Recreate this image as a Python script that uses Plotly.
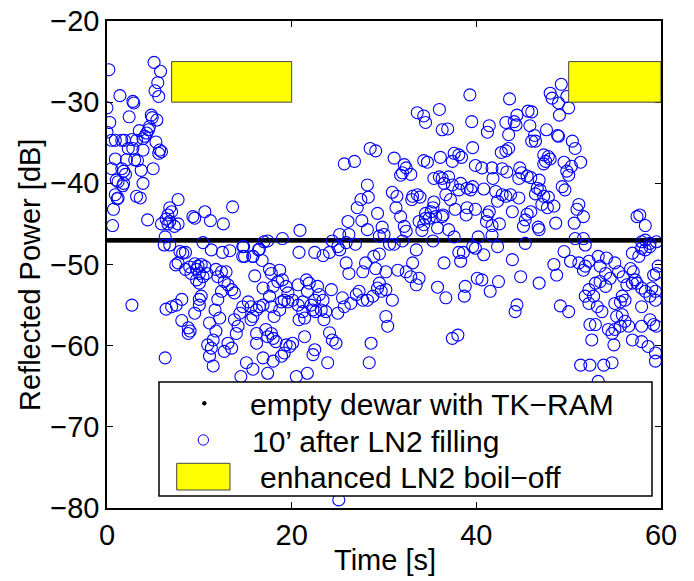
import numpy as np
import plotly.graph_objects as go

# ---------------- data ----------------
# "10' after LN2 filling" : time [s], reflected power [dB]
filled_time = [
    0.2, 5.1, 5.8, 5.5, 5.2, 5.6, 1.4, 2.8, 2.9, 0.0, 2.4, 4.8, 4.9, 5.4, 0.3, 4.6, 4.5, 4.3, 4.1, 0.0,
    3.5, 0.5, 0.9, 1.6, 1.9, 2.7, 3.2, 3.9, 5.3, 2.3, 2.8, 3.9, 5.7, 5.9, 5.6, 0.9, 2.1, 3.0, 3.3, 0.5,
    1.6, 1.8, 2.0, 3.7, 5.0, 1.0, 1.2, 1.8, 1.7, 3.9, 0.9, 1.2, 1.1, 3.2, 3.6, 0.7, 0.6, 4.4, 7.7, 6.8,
    7.0, 6.6, 6.4, 6.8, 5.9, 6.6, 7.7, 7.3, 9.3, 9.5, 10.6, 11.2, 12.6, 13.6, 6.3, 6.2, 6.8, 10.4, 11.3, 7.9,
    8.2, 8.5, 7.7, 12.5, 13.3, 14.8, 14.7, 15.8, 16.4, 17.0, 17.4, 19.0,
    # 7 - 20 s, below the line
    7.45, 8.5, 8.96, 9.5, 9.86, 10.2, 10.6, 9.7, 9.1, 10.0, 10.8, 9.7, 10.0, 10.4, 11.8, 12.4, 12.9, 12.0, 12.7, 13.1,
    13.5, 13.8, 12.4, 12.0, 11.7, 12.2, 11.1, 11.8, 11.5, 10.9, 11.3, 13.1, 12.7, 13.5, 14.0, 14.2, 13.8, 14.4, 14.7, 15.3,
    15.6, 16.2, 16.5, 16.9, 15.8, 15.6, 16.2, 17.2, 17.8, 18.0, 17.4, 18.3, 16.2, 15.1, 15.8, 16.9, 17.4, 18.0, 18.9, 19.4,
    11.1, 11.5, 10.0, 10.2, 10.0, 9.5, 8.1, 7.5, 7.0, 6.4, 2.7, 8.1, 8.8, 9.0, 8.8, 6.3, 14.5,
    14.7, 14.9, 15.8, 16.5, 16.8, 17.6, 17.8, 18.7, 18.5, 18.0, 16.9, 17.6, 18.9, 19.2, 18.7, 17.8, 18.1, 16.0, 19.4, 19.6,
    # 20 - 40 s, upper part
    39.3, 33.6, 34.3, 34.5, 36.0, 39.5, 36.3, 36.9, 28.5, 29.1, 25.7, 26.8, 31.1, 34.3, 34.7, 36.1, 37.4, 37.6, 38.1, 38.4,
    39.6, 39.9, 32.2, 32.4, 32.0, 31.8, 32.9, 35.4, 36.0, 36.3, 37.0, 36.5, 37.4, 38.3, 38.1, 39.0, 39.4, 39.6, 28.2, 27.5,
    27.1, 28.3, 30.9, 31.4, 33.1, 33.6, 33.9, 33.0, 31.3, 35.4, 35.3, 35.1, 34.5, 34.5, 36.7, 37.2, 36.4, 37.7, 39.0, 38.9,
    39.9, 31.8, 32.2, 32.4, 29.3, 27.6, 26.1, 28.2, 33.8, 34.3, 34.9, 35.6, 36.3, 35.8, 37.0, 34.1, 20.9, 29.8, 30.0, 29.5,
    25.2, 26.2, 26.9, 24.4, 25.9, 25.0, 20.8, 22.5, 23.4, 24.1, 25.2, 28.0, 28.9, 29.5, 30.6, 31.1, 32.0, 33.5, 35.3, 37.6,
    38.1, 38.6, 39.9,
    # 40 - 60 s, upper part
    49.2, 48.0, 48.2, 48.9, 49.8, 50.0, 49.0, 43.6, 45.6, 46.0, 41.4, 41.2, 43.2, 44.1, 44.4, 44.3, 43.5, 45.8, 46.3, 46.0,
    46.4, 47.6, 48.8, 48.9, 50.4, 50.7, 42.7, 43.2, 43.5, 47.3, 47.8, 47.5, 47.3, 48.0, 49.5, 51.3, 50.3, 49.8, 50.0, 40.6,
    41.7, 42.8, 43.3, 44.7, 44.9, 45.5, 45.9, 44.6, 41.8, 46.8, 46.6, 46.9, 46.4, 49.3, 49.6, 40.8, 42.1, 42.3, 42.8, 43.2,
    43.7, 44.6, 47.3, 47.8, 47.1, 48.4, 47.7, 41.4, 41.2, 41.1, 41.7, 42.5, 43.9, 45.5, 45.9, 45.3, 46.7, 45.1, 48.6, 51.1,
    50.9, 51.6, 50.6, 57.4, 57.7, 58.3,
    # 20 - 40 s, lower part
    25.9, 33.1, 36.5, 38.3,
    29.1, 27.7, 26.2, 30.2, 31.5, 32.4, 32.9, 33.8, 33.5, 40.1, 38.8, 38.7, 36.7, 35.8,
    19.0, 20.7, 21.6, 21.9, 21.7, 22.8, 23.0, 22.5, 24.3, 23.4, 22.1, 21.2, 20.7, 20.1, 19.6, 21.2, 20.8, 21.4, 22.3, 22.6,
    23.2, 23.7, 23.5, 25.0, 25.7, 26.4, 25.5, 27.0, 27.3, 27.7, 28.2, 28.8, 29.3, 29.5, 29.7, 30.2, 30.9, 30.2, 30.4, 24.1,
    24.4, 24.8, 21.4, 20.1, 19.8, 19.2, 22.5, 22.3, 23.9, 20.5, 21.7, 28.4, 28.6, 37.4, 38.0, 25.1,
    # 40 - 60 s, lower part
    40.2, 41.7, 45.3, 46.8, 50.7, 51.6, 51.8, 57.9, 58.8, 58.3, 59.5, 39.6, 40.8, 42.3, 43.9, 44.8, 46.8, 40.6, 41.5, 42.4,
    44.4, 44.2, 49.5, 50.2, 51.1, 51.8, 51.6, 48.4, 48.7, 52.2, 53.2, 54.1, 53.4, 54.0, 55.0, 55.4, 54.5, 53.4, 52.9, 54.0,
    55.9, 56.7, 57.0, 57.2, 57.6, 56.9, 57.9, 58.3, 58.8, 52.2, 51.8, 52.7, 52.2, 53.1, 53.6, 52.3, 52.9, 52.5, 54.3, 54.7,
    54.9, 55.0, 55.6, 56.1, 56.5, 55.2, 55.8, 55.0, 55.6, 56.1, 55.8, 56.3, 56.9, 57.4, 57.9, 58.3, 59.0, 59.4, 58.8, 59.4,
    57.9, 58.8, 59.2, 59.5, 57.9, 56.9, 57.9, 58.6, 59.4, 59.4, 59.7, 59.5, 59.2, 51.3, 52.3, 53.8, 54.7, 50.0, 49.1, 53.2,
]
filled_power = [
    -26.0, -25.1, -26.2, -27.6, -28.6, -29.3, -29.2, -29.9, -30.1, -30.7, -31.8, -31.6, -31.9, -32.2, -32.5, -33.0, -33.4, -33.8, -34.2, -33.7,
    -33.5, -34.7, -34.7, -34.7, -34.7, -34.6, -34.7, -34.5, -34.9, -35.7, -35.7, -35.9, -35.9, -36.1, -36.3, -37.0, -37.1, -37.1, -37.2, -38.2,
    -38.2, -38.5, -38.9, -38.4, -38.2, -39.6, -39.8, -40.0, -40.3, -40.0, -41.4, -41.8, -41.9, -41.6, -41.8, -43.2, -45.2, -44.5, -42.0, -43.0,
    -43.5, -43.9, -44.4, -44.7, -45.0, -45.0, -45.0, -45.3, -44.1, -44.3, -43.5, -44.6, -45.0, -42.9, -46.6, -47.6, -47.6, -47.3, -48.2, -48.4,
    -48.6, -48.5, -49.8, -48.5, -48.3, -47.8, -49.0, -49.0, -48.2, -47.2, -47.1, -46.8,
    -50.05, -50.6, -50.3, -49.9, -50.2, -50.0, -50.25, -50.6, -51.1, -51.1, -51.1, -51.9, -52.3, -51.5, -50.6, -50.9, -50.9, -51.5, -52.1, -52.5,
    -53.1, -53.5, -53.3, -54.3, -55.6, -56.6, -57.2, -58.2, -59.3, -59.9, -60.3, -59.7, -60.7, -60.3, -58.5, -57.6, -56.8, -56.0, -55.2, -54.6,
    -55.2, -55.6, -55.2, -55.0, -56.4, -56.8, -58.5, -58.0, -58.5, -59.1, -58.9, -59.5, -59.7, -62.1, -62.9, -61.5, -63.4, -61.9, -61.3, -59.9,
    -61.3, -62.5, -54.3, -53.9, -55.0, -56.0, -54.3, -55.0, -55.2, -55.5, -55.0, -56.9, -57.8, -58.2, -58.5, -61.5, -63.8,
    -47.8, -49.0, -49.0, -48.1, -49.5, -50.6, -51.1, -50.7, -52.1, -52.7, -52.9, -53.9, -54.6, -54.4, -55.6, -55.2, -56.4, -51.4, -52.7, -53.5,
    -29.1, -31.3, -31.7, -32.5, -30.9, -32.4, -33.4, -33.3, -35.7, -36.0, -37.6, -37.3, -36.9, -37.2, -37.4, -36.8, -37.3, -36.3, -36.5, -36.8,
    -35.6, -37.8, -37.7, -38.1, -38.7, -39.0, -38.9, -39.4, -39.2, -39.4, -39.2, -40.0, -40.2, -40.0, -40.8, -40.6, -40.8, -40.4, -40.2, -42.0,
    -43.0, -41.7, -41.1, -41.6, -41.6, -41.4, -41.7, -42.0, -43.0, -42.3, -43.0, -43.5, -43.7, -44.3, -41.4, -42.0, -43.9, -43.2, -43.0, -43.9,
    -43.2, -44.1, -45.3, -45.9, -43.7, -44.6, -44.7, -45.7, -44.7, -45.1, -44.3, -44.1, -44.1, -45.5, -45.7, -45.8, -45.8, -45.4, -46.3, -46.5,
    -46.3, -46.3, -47.5, -47.1, -47.3, -47.8, -48.5, -48.5, -48.9, -48.5, -48.2, -49.8, -49.0, -48.7, -47.5, -47.5, -47.1, -48.2, -47.1, -46.6,
    -48.5, -48.5, -48.0,
    -27.8, -28.9, -29.5, -30.1, -29.3, -30.7, -31.6, -29.6, -31.1, -31.2, -32.9, -33.7, -32.5, -32.4, -31.6, -32.8, -34.0, -32.9, -34.1, -34.8,
    -34.8, -33.4, -34.1, -34.2, -34.8, -35.7, -36.2, -36.0, -35.7, -36.5, -36.7, -37.3, -37.6, -37.0, -37.4, -37.4, -37.9, -38.5, -39.0, -38.1,
    -38.1, -38.2, -38.6, -38.1, -38.7, -39.1, -39.3, -39.4, -39.4, -39.6, -40.6, -40.8, -41.3, -40.4, -40.8, -40.7, -41.0, -42.2, -41.4, -41.6,
    -41.4, -41.8, -41.6, -41.7, -42.6, -42.8, -43.0, -43.5, -43.9, -44.7, -45.2, -45.0, -43.5, -43.8, -43.5, -44.5, -45.4, -45.3, -44.9, -42.6,
    -43.2, -44.1, -44.9, -44.1, -43.9, -45.2,
    -49.8, -49.8, -49.8, -49.6,
    -50.5, -50.9, -51.1, -50.9, -50.7, -50.9, -51.5, -51.7, -52.5, -51.7, -52.7, -53.9, -54.1, -52.8,
    -51.9, -52.5, -51.9, -52.3, -53.3, -52.7, -53.7, -54.4, -53.1, -54.4, -55.0, -54.6, -55.0, -54.4, -54.6, -55.8, -56.8, -56.6, -55.6, -55.8,
    -55.6, -55.8, -56.8, -56.0, -55.2, -54.8, -54.1, -53.7, -53.3, -54.4, -54.4, -53.9, -52.9, -52.3, -53.3, -53.1, -54.4, -56.4, -57.6, -58.4,
    -59.3, -59.7, -58.9, -59.7, -60.1, -60.9, -60.5, -61.1, -62.1, -63.8, -63.4, -62.1, -59.7, -59.1, -58.7, -79.0,
    -46.6, -46.4, -47.4, -45.7, -46.8, -46.8, -47.6, -47.2, -47.4, -47.0, -47.2, -47.8, -48.8, -47.8, -49.4, -51.5, -52.3, -51.9, -53.3, -52.1,
    -54.97, -55.8, -48.4, -49.6, -49.8, -50.2, -50.7, -50.0, -51.3, -49.6, -49.0, -49.2, -50.2, -51.1, -49.8, -50.9, -51.7, -52.1, -52.3, -52.7,
    -51.5, -50.5, -50.9, -51.9, -49.0, -48.6, -48.0, -48.2, -47.8, -53.1, -53.9, -53.9, -54.8, -55.2, -55.8, -57.4, -57.4, -59.3, -58.0, -58.5,
    -59.9, -58.0, -57.6, -57.0, -57.6, -56.4, -56.2, -54.8, -54.6, -54.4, -53.9, -52.5, -52.3, -52.3, -52.9, -53.3, -52.9, -53.3, -53.9, -54.4,
    -55.2, -56.8, -57.4, -57.6, -57.6, -59.3, -59.5, -60.1, -60.9, -61.9, -50.2, -51.1, -51.3, -62.4, -62.4, -62.4, -62.1, -55.8, -55.1, -64.4,
]

# "empty dewar with TK-RAM" : dense trace at constant level
empty_time = np.arange(0.0, 60.01, 0.1)
empty_power = [-47.0] * len(empty_time)

# enhanced LN2 boil-off intervals [s] and their band [dB]
boiloff_start = [7, 50]
boiloff_end = [20, 60]
boiloff_top = -25
boiloff_bottom = -30

x_ticks = [0, 20, 40, 60]
y_ticks = [-80, -70, -60, -50, -40, -30, -20]

FONT = "Liberation Sans, Arial, sans-serif"
FS = 29
LEG_FS = 30

fig = go.Figure()

fig.add_trace(go.Scatter(
    x=empty_time, y=empty_power, mode="markers",
    marker=dict(symbol="circle", size=4.5, color="black", line=dict(width=0)),
    showlegend=False, hoverinfo="skip",
))
fig.add_trace(go.Scatter(
    x=filled_time, y=filled_power, mode="markers",
    marker=dict(symbol="circle-open", size=12, color="#0000ff", line=dict(width=1.1, color="#0000ff")),
    showlegend=False,
))

for s, e in zip(boiloff_start, boiloff_end):
    fig.add_shape(type="rect", xref="x", yref="y", x0=s, x1=e, y0=boiloff_bottom, y1=boiloff_top,
                  fillcolor="#ffff00", line=dict(color="#444444", width=1), layer="above")

# ---------- legend (drawn as box + symbols + text); positions in window pixels ----------
def px2x(px):
    return (px - 107) / 554.0

def px2y(py):
    return (508 - py) / 487.0

fig.add_shape(type="rect", xref="paper", yref="paper",
              x0=px2x(159), x1=px2x(652), y0=px2y(496), y1=px2y(382),
              fillcolor="white", line=dict(color="black", width=1.5), layer="above")
fig.add_shape(type="circle", xref="paper", yref="paper", xsizemode="pixel", ysizemode="pixel",
              xanchor=px2x(204.3), yanchor=px2y(403.3), x0=-2.2, x1=2.2, y0=-2.2, y1=2.2,
              fillcolor="black", line=dict(color="black", width=0), layer="above")
fig.add_shape(type="circle", xref="paper", yref="paper", xsizemode="pixel", ysizemode="pixel",
              xanchor=px2x(203.3), yanchor=px2y(440), x0=-5.2, x1=5.2, y0=-5.2, y1=5.2,
              fillcolor="rgba(0,0,0,0)", line=dict(color="#0000ff", width=1), layer="above")
fig.add_shape(type="rect", xref="paper", yref="paper",
              x0=px2x(176.7), x1=px2x(230), y0=px2y(490), y1=px2y(463.3),
              fillcolor="#ffff00", line=dict(color="#444444", width=1), layer="above")

legend_texts = ["empty dewar with TK\u2212RAM", "10\u2019 after LN2 filling", "enhanced LN2 boil\u2212off"]
legend_x = [248.3, 249.5, 258]
legend_y = [404, 441, 477]
for txt, lx, ly in zip(legend_texts, legend_x, legend_y):
    fig.add_annotation(text=txt, xref="paper", yref="paper", x=px2x(lx), y=px2y(ly),
                       xanchor="left", yanchor="middle", showarrow=False,
                       font=dict(family=FONT, size=LEG_FS, color="black"))

# axis titles
fig.add_annotation(text="Time [s]", xref="paper", yref="paper", x=px2x(385), y=px2y(560),
                   xanchor="center", yanchor="middle", showarrow=False,
                   font=dict(family=FONT, size=FS, color="black"))
fig.add_annotation(text="Reflected Power [dB]", xref="paper", yref="paper", x=px2x(30), y=px2y(275),
                   xanchor="center", yanchor="middle", showarrow=False, textangle=-90,
                   font=dict(family=FONT, size=FS, color="black"))

axis_common = dict(
    showline=True, linecolor="black", linewidth=1.5, mirror="allticks",
    ticks="inside", ticklen=6, tickwidth=1, tickcolor="black",
    showgrid=False, zeroline=False, automargin=False,
    tickfont=dict(family=FONT, size=FS, color="black"),
)
fig.update_xaxes(range=[0, 60], tickvals=x_ticks, ticktext=[str(v) for v in x_ticks], **axis_common)
fig.update_yaxes(range=[-80, -20], tickvals=y_ticks,
                 ticktext=["\u2212" + str(abs(v)) for v in y_ticks], **axis_common)

fig.update_layout(
    width=694, height=581,
    margin=dict(l=107, r=33, t=21, b=73),
    paper_bgcolor="white", plot_bgcolor="white",
    showlegend=False,
)

fig.write_html(
    "out.html",
    config={"displayModeBar": False},
    post_script=(
        "document.body.style.margin='0';"
        "document.body.style.overflow='hidden';"
        "document.documentElement.style.overflow='hidden';"
    ),
)
